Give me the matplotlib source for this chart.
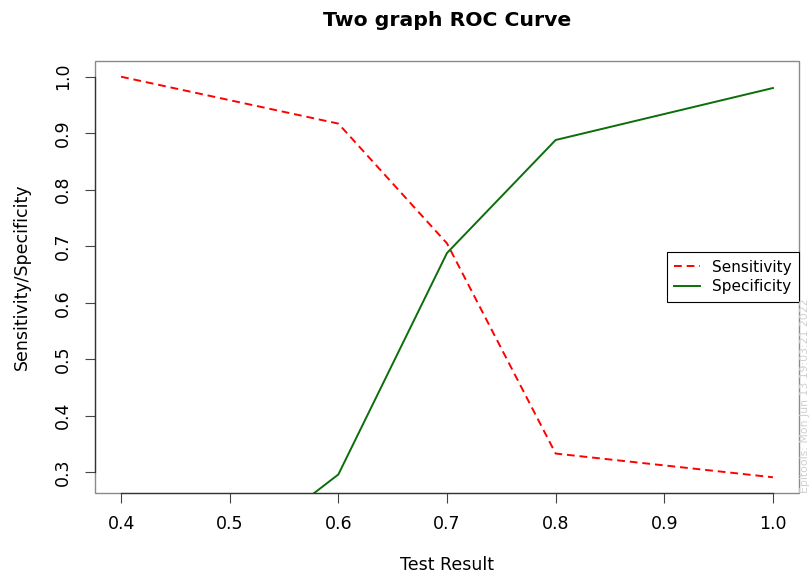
import matplotlib
matplotlib.use("Agg")
import matplotlib.pyplot as plt
from matplotlib.patches import Rectangle

# Data
test_result = [0.4, 0.6, 0.7, 0.8, 1.0]
sensitivity = [1.0, 0.917, 0.705, 0.333, 0.291]
specificity = [0.0, 0.296, 0.688, 0.888, 0.980]
x_ticks = [0.4, 0.5, 0.6, 0.7, 0.8, 0.9, 1.0]
y_ticks = [0.3, 0.4, 0.5, 0.6, 0.7, 0.8, 0.9, 1.0]
title = "Two graph ROC Curve"
xlabel = "Test Result"
ylabel = "Sensitivity/Specificity"
watermark = "Epitools: Mon Jun 13 19:03:21 2022"

plt.rcParams['font.family'] = ['DejaVu Sans']

fig = plt.figure(figsize=(8.10, 5.79), dpi=100)
ax = fig.add_axes([95/810, 1 - 493.3/579, (799 - 95)/810, (493.3 - 60.7)/579])

ax.plot(test_result, sensitivity, color='#ff0000', lw=1.4, dashes=(4, 2.5),
        label='Sensitivity')
ax.plot(test_result, specificity, color='#0a6e0a', lw=1.4, label='Specificity')

xr = max(test_result) - min(test_result)
ax.set_xlim(min(test_result) - 0.04 * xr, max(test_result) + 0.04 * xr)
yr = max(sensitivity) - min(sensitivity)
ax.set_ylim(min(sensitivity) - 0.04 * yr, max(sensitivity) + 0.04 * yr)

ax.set_xticks(x_ticks)
ax.set_xticklabels([f"{v:.1f}" for v in x_ticks])
ax.set_yticks(y_ticks)
ax.set_yticklabels([f"{v:.1f}" for v in y_ticks], rotation=90, va='center')
ax.tick_params(axis='both', direction='out', length=7.5, width=0.8,
               color='#444444', labelsize=12.5, pad=8)
ax.tick_params(axis='y', pad=9)

for s in ['top', 'right']:
    ax.spines[s].set_visible(False)
ax.spines['left'].set_bounds(min(y_ticks), max(y_ticks))
ax.spines['bottom'].set_bounds(min(x_ticks), max(x_ticks))
ax.spines['left'].set_color('#333333')
ax.spines['bottom'].set_color('#333333')
ax.spines['left'].set_linewidth(0.9)
ax.spines['bottom'].set_linewidth(0.9)
ax.add_patch(Rectangle((0, 0), 1, 1, transform=ax.transAxes, fill=False,
                       edgecolor='#8a8a8a', lw=1.0, clip_on=False, zorder=0.5))

fig.text(0.5 * (95 + 799) / 810, 1 - 20 / 579, title, ha='center', va='center',
         fontsize=14.7, fontweight='bold')
fig.text(0.5 * (95 + 799) / 810, 1 - 565 / 579, xlabel, ha='center', va='center',
         fontsize=12.5)
fig.text(22 / 810, 1 - 277 / 579, ylabel, ha='center', va='center',
         fontsize=12.5, rotation=90)

leg = ax.legend(loc='upper right', bbox_to_anchor=(1.0, (493.3 - 252) / 432.6),
                borderaxespad=0, fontsize=11, frameon=True, fancybox=False,
                edgecolor='black', framealpha=1, handlelength=1.7,
                handletextpad=0.75, labelspacing=0.3, borderpad=0.5)
leg.get_frame().set_linewidth(0.8)

fig.text(805 / 810, 1 - 493 / 579, watermark, rotation=90, ha='center',
         va='bottom', fontsize=7.8, color='#cfcfcf')

fig.savefig('out.png', dpi=100)
